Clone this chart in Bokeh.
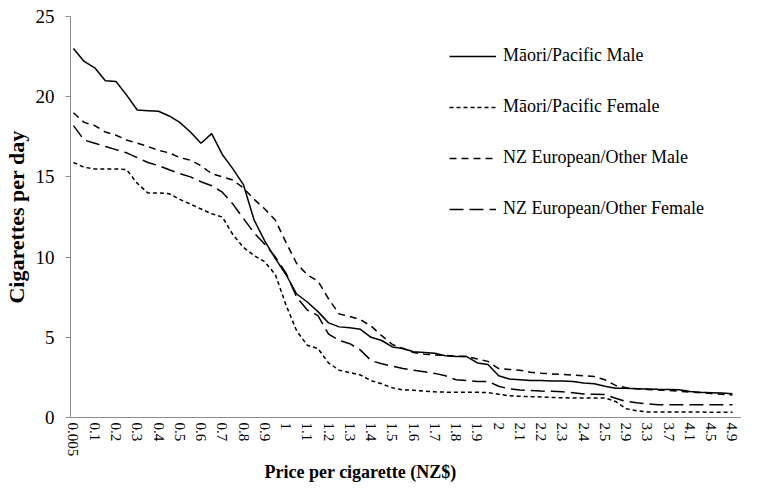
from bokeh.plotting import figure
from bokeh.models import FixedTicker, Legend, LegendItem, Range1d, Title
from bokeh.embed import file_html
from bokeh.resources import INLINE

# Price categories (NZ$ per cigarette)
prices = ["0.005", "0.05", "0.1", "0.15", "0.2", "0.25", "0.3", "0.35", "0.4", "0.45",
          "0.5", "0.55", "0.6", "0.65", "0.7", "0.75", "0.8", "0.85", "0.9", "0.95",
          "1", "1.05", "1.1", "1.15", "1.2", "1.25", "1.3", "1.35", "1.4", "1.45",
          "1.5", "1.55", "1.6", "1.65", "1.7", "1.75", "1.8", "1.85", "1.9", "1.95",
          "2", "2.05", "2.1", "2.15", "2.2", "2.25", "2.3", "2.35", "2.4", "2.45",
          "2.5", "2.7", "2.9", "3.1", "3.3", "3.5", "3.7", "3.9", "4.1", "4.3",
          "4.5", "4.7", "4.9"]

maori_male = [23.0, 22.2, 21.8, 21.0, 20.95, 20.1, 19.17, 19.13, 19.09, 18.8, 18.4, 17.8, 17.1, 17.7,
              16.4, 15.5, 14.5, 12.3, 11.0, 9.9, 8.9, 7.7, 7.2, 6.6, 5.9, 5.65,
              5.6, 5.5, 5.0, 4.8, 4.4, 4.3, 4.1, 4.05, 4.0, 3.85, 3.8, 3.8, 3.4, 3.3,
              2.6, 2.4, 2.35, 2.3, 2.3, 2.28, 2.27, 2.25, 2.15, 2.1, 1.95,
              1.83, 1.82, 1.8, 1.78, 1.76, 1.75, 1.73, 1.62, 1.57, 1.55, 1.52, 1.48]

maori_female = [15.9, 15.6, 15.5, 15.5, 15.5, 15.45, 14.6, 14.0, 14.0, 13.95, 13.6, 13.3, 13.0, 12.7,
                12.5, 11.4, 10.6, 10.1, 9.7, 8.9, 7.0, 5.4, 4.5, 4.3, 3.4, 2.95,
                2.8, 2.65, 2.3, 2.1, 1.85, 1.72, 1.7, 1.65, 1.6, 1.58, 1.57, 1.57, 1.57, 1.55,
                1.45, 1.35, 1.32, 1.3, 1.28, 1.25, 1.23, 1.22, 1.22, 1.22, 1.22,
                1.0, 0.55, 0.42, 0.35, 0.35, 0.35, 0.34, 0.34, 0.34, 0.33, 0.33, 0.33]

nz_male = [19.0, 18.4, 18.2, 17.8, 17.6, 17.3, 17.1, 16.9, 16.65, 16.5, 16.2, 16.05, 15.7, 15.2,
           15.0, 14.8, 14.3, 13.6, 13.0, 12.3, 10.9, 9.6, 8.9, 8.5, 7.4, 6.45,
           6.3, 6.1, 5.7, 5.1, 4.55, 4.3, 4.05, 3.95, 3.9, 3.87, 3.83, 3.8, 3.65, 3.5,
           3.05, 3.0, 2.95, 2.82, 2.76, 2.72, 2.68, 2.65, 2.6, 2.55, 2.35,
           2.0, 1.85, 1.8, 1.75, 1.72, 1.68, 1.64, 1.58, 1.54, 1.5, 1.45, 1.4]

nz_female = [18.2, 17.3, 17.1, 16.9, 16.7, 16.5, 16.2, 15.9, 15.7, 15.45, 15.2, 15.0, 14.7, 14.45,
             14.05, 13.3, 12.4, 11.5, 10.8, 10.0, 9.0, 7.5, 6.7, 6.35, 5.2, 4.8,
             4.6, 4.2, 3.55, 3.35, 3.2, 3.05, 2.95, 2.85, 2.75, 2.6, 2.35, 2.3, 2.25, 2.25,
             1.95, 1.78, 1.72, 1.68, 1.65, 1.63, 1.6, 1.55, 1.47, 1.45, 1.43,
             1.2, 1.0, 0.92, 0.85, 0.8, 0.8, 0.8, 0.8, 0.8, 0.8, 0.8, 0.8]

series_names = ["Māori/Pacific Male", "Māori/Pacific Female",
                "NZ European/Other Male", "NZ European/Other Female"]
y_ticks = [0, 5, 10, 15, 20, 25]

FONT = "Liberation Serif"
AXIS_GREY = "#8c8c8c"

x = list(range(len(prices)))

p = figure(width=741, height=482, output_backend="svg", toolbar_location=None,
           x_range=Range1d(-0.28, 62.85), y_range=Range1d(0, 25),
           min_border_left=69, min_border_right=0, min_border_top=16, min_border_bottom=65)
p.outline_line_color = None
p.xgrid.grid_line_color = None
p.ygrid.grid_line_color = None
p.background_fill_color = "white"
p.border_fill_color = "white"

r1 = p.line(x, maori_male, line_color="black", line_width=1.5)
r2 = p.line(x, maori_female, line_color="black", line_width=1.5, line_dash="4 3")
r3 = p.line(x, nz_male, line_color="black", line_width=1.5, line_dash="7 5")
r4 = p.line(x, nz_female, line_color="black", line_width=1.5, line_dash="14 6")

# y axis
yax = p.yaxis[0]
yax.ticker = FixedTicker(ticks=y_ticks)
yax.axis_line_color = AXIS_GREY
yax.major_tick_line_color = AXIS_GREY
yax.major_tick_out = 5
yax.major_tick_in = 0
yax.minor_tick_line_color = None
yax.major_label_standoff = 11
yax.major_label_text_font = FONT
yax.major_label_text_font_size = "19px"
yax.major_label_text_color = "black"
yax.axis_label = "Cigarettes per day"
yax.axis_label_text_font = FONT
yax.axis_label_text_font_size = "22px"
yax.axis_label_text_font_style = "bold"
yax.axis_label_text_color = "black"
yax.axis_label_standoff = 4

# x axis
xax = p.xaxis[0]
xax.ticker = FixedTicker(ticks=list(range(0, len(prices), 2)))
xax.major_label_overrides = {i: prices[i] for i in range(0, len(prices), 2)}
xax.major_label_orientation = "vertical"
xax.axis_line_color = AXIS_GREY
xax.major_tick_line_color = None
xax.major_tick_out = 0
xax.major_tick_in = 0
xax.minor_tick_line_color = None
xax.major_label_standoff = 5
xax.major_label_text_font = FONT
xax.major_label_text_font_size = "15px"
xax.major_label_text_color = "black"

xtitle = Title(text="Price per cigarette (NZ$)", align="left", offset=194,
               text_font=FONT, text_font_size="18px", text_font_style="bold",
               text_color="black", standoff=0)
p.add_layout(xtitle, "below")

legend = Legend(items=[LegendItem(label=series_names[0], renderers=[r1]),
                       LegendItem(label=series_names[1], renderers=[r2]),
                       LegendItem(label=series_names[2], renderers=[r3]),
                       LegendItem(label=series_names[3], renderers=[r4])],
                location=(379, 198), orientation="vertical",
                glyph_width=47, glyph_height=20, label_height=20, spacing=30,
                padding=0, margin=0, label_standoff=7,
                border_line_color=None, background_fill_alpha=0,
                label_text_font=FONT, label_text_font_size="18px",
                label_text_color="black")
p.add_layout(legend)

open("out.html", "w").write(file_html(p, INLINE))
